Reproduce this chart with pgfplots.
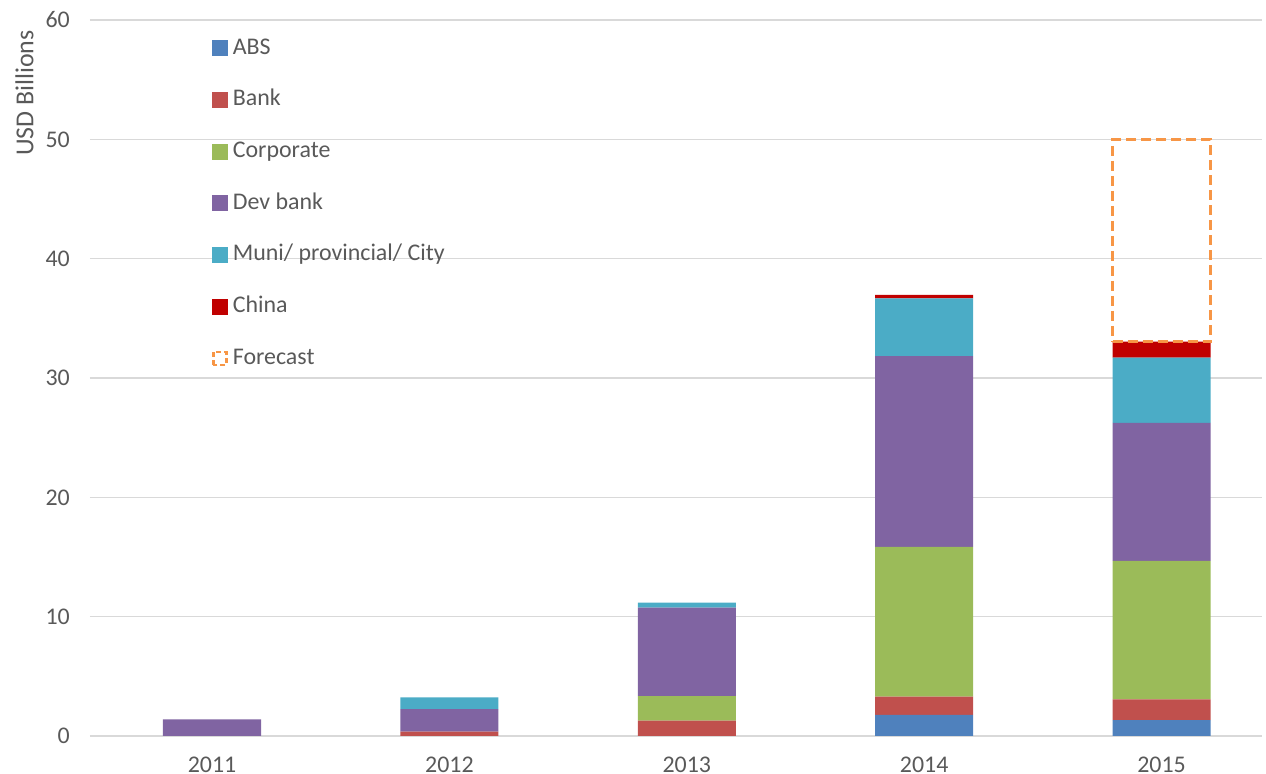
\documentclass[border=0pt]{standalone}
\usepackage{pgfplots}
\pgfplotsset{compat=1.18}
\usepackage{fontspec}
\setmainfont{Carlito}
\definecolor{cABS}{HTML}{4F81BD}
\definecolor{cBank}{HTML}{C0504D}
\definecolor{cCorp}{HTML}{9BBB59}
\definecolor{cDev}{HTML}{8064A2}
\definecolor{cMuni}{HTML}{4BACC6}
\definecolor{cChina}{HTML}{C00000}
\definecolor{cFore}{HTML}{F79646}
\definecolor{gridgray}{HTML}{D9D9D9}
\definecolor{txtgray}{HTML}{595959}
\pgfplotsset{sqlegend/.style={legend image code/.code={\fill[##1] (0bp,-8bp) rectangle (16bp,8bp);}}}
\begin{document}
\begin{tikzpicture}
\begin{axis}[
  at={(0,0)}, anchor=south west,
  scale only axis, width=1172bp, height=716bp,
  xmin=-0.514, xmax=4.423, ymin=0, ymax=60,
  ybar stacked, bar width=0.413,
  xtick={0,1,2,3,4}, xticklabels={2011,2012,2013,2014,2015},
  ytick={0,10,20,30,40,50,60},
  ymajorgrids, grid style={draw=gridgray, line width=1.3bp},
  axis line style={draw=none}, major tick length=0pt,
  tick label style={font=\fontsize{24}{28}\selectfont, text=txtgray},
  /pgf/number format/assume math mode=true,
  yticklabel style={anchor=east, inner sep=0pt, xshift=-20bp},
  xticklabel style={anchor=north, inner sep=0pt, yshift=-21bp},
  ylabel={USD Billions},
  ylabel style={at={(rel axis cs:-0.0559,0.986)}, rotate=0, anchor=east, inner sep=0pt, font=\fontsize{26}{30}\selectfont, text=txtgray},
  legend style={at={(0.104,0.976)}, anchor=north west, draw=none, fill=none, inner sep=0pt, outer sep=0pt,
    row sep=29.7bp, column sep=5bp, font=\fontsize{24}{28}\selectfont, text=txtgray,
    nodes={inner sep=0pt, text height=17bp, text depth=5bp}},
  legend cell align=left,
]
\addplot[fill=cABS, draw=none, sqlegend] coordinates {(0,0) (1,0) (2,0) (3,1.76) (4,1.34)};
\addlegendentry{ABS}
\addplot[fill=cBank, draw=none, sqlegend] coordinates {(0,0) (1,0.36) (2,1.28) (3,1.54) (4,1.73)};
\addlegendentry{Bank}
\addplot[fill=cCorp, draw=none, sqlegend] coordinates {(0,0) (1,0) (2,2.07) (3,12.54) (4,11.60)};
\addlegendentry{Corporate}
\addplot[fill=cDev, draw=none, sqlegend] coordinates {(0,1.40) (1,1.90) (2,7.40) (3,16.00) (4,11.56)};
\addlegendentry{Dev bank}
\addplot[fill=cMuni, draw=none, sqlegend] coordinates {(0,0) (1,0.98) (2,0.42) (3,4.84) (4,5.47)};
\addlegendentry{Muni/ provincial/ City}
\addplot[fill=cChina, draw=none, sqlegend] coordinates {(0,0) (1,0) (2,0) (3,0.28) (4,1.34)};
\addlegendentry{China}
\addlegendimage{legend image code/.code={\draw[cFore, line width=2.5bp, dash pattern=on 5bp off 3bp] (1.5bp,-6.5bp) rectangle (14.5bp,6.5bp);}}
\addlegendentry{Forecast}
\end{axis}
\begin{axis}[
  at={(0,0)}, anchor=south west,
  scale only axis, width=1172bp, height=716bp,
  xmin=-0.514, xmax=4.423, ymin=0, ymax=60,
  hide axis, ybar stacked, bar width=0.413,
]
\addplot[draw=none, fill=none] coordinates {(4,33.04)};
\addplot[draw=cFore, fill=none, line width=3bp, dash pattern=on 10bp off 5bp] coordinates {(4,16.96)};
\end{axis}
\pgfresetboundingbox
\path[use as bounding box] (-90bp,-38bp) rectangle (1176bp,736bp);
\end{tikzpicture}
\end{document}
